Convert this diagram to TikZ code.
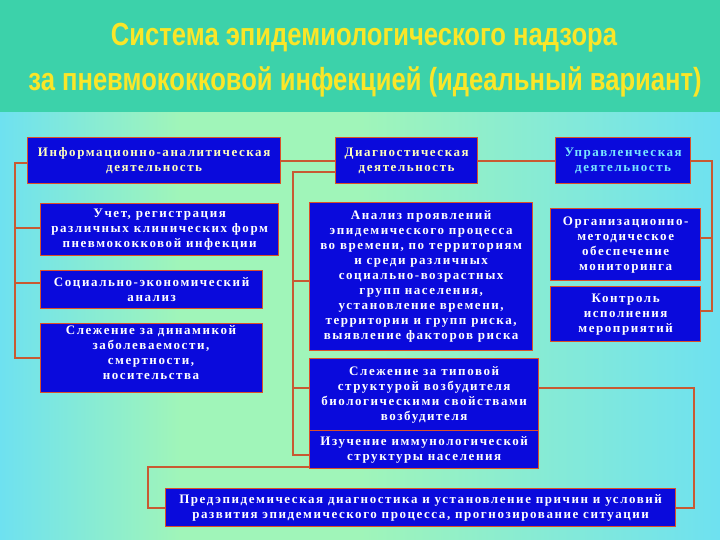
\documentclass[tikz,border=0pt]{standalone}
\usepackage{fontspec}
\setmainfont{Liberation Serif}
\newfontfamily\bxfont[LetterSpace=12]{Liberation Serif}
\newfontfamily\ttlfont{Liberation Sans}
\definecolor{boxblue}{RGB}{10,10,220}
\definecolor{brd}{RGB}{220,80,40}
\definecolor{lnk}{RGB}{200,90,50}
\definecolor{bgc}{RGB}{110,225,240}
\definecolor{bgg}{RGB}{160,245,185}
\definecolor{ttlbg}{RGB}{60,210,170}
\definecolor{ttly}{RGB}{250,230,40}
\definecolor{hdry}{RGB}{255,255,190}
\definecolor{hdrc}{RGB}{120,230,255}
\tikzset{
  bx/.style={draw=brd, line width=1.3pt, fill=boxblue, text=white, font=\bxfont\bfseries\fontsize{13}{15}\selectfont, align=center, inner sep=1pt, anchor=north west},
  ln/.style={draw=lnk, line width=1.3pt},
  ttl/.style={text=ttly, font=\ttlfont\bfseries\fontsize{32}{32}\selectfont, xscale=0.8}
}
\begin{document}
\begin{tikzpicture}[x=1pt,y=-1pt]
\useasboundingbox (0,0) rectangle (720,540);
\shade[left color=bgc, right color=bgg, middle color=bgg] (0,112) rectangle (360,540);
\shade[left color=bgg, right color=bgc] (360,112) rectangle (720,540);
\fill[ttlbg] (0,0) rectangle (720,112);
\node[ttl] (t1) at (364,38) {Система эпидемиологического надзора};
\node[ttl] (t2) at (365,82) {за пневмококковой инфекцией (идеальный вариант)};

\node[bx, minimum width=253pt, minimum height=46pt, text=hdry] (info) at (27,137) {Информационно-аналитическая\\деятельность};
\node[bx, minimum width=142pt, minimum height=46pt, text=hdry] (diag) at (335,137) {Диагностическая\\деятельность};
\node[bx, minimum width=135pt, minimum height=46pt, text=hdrc] (upr) at (555,137) {Управленческая\\деятельность};
\node[bx, minimum width=238pt, minimum height=52pt] (uchet) at (40,203) {Учет, регистрация\\различных клинических форм\\пневмококковой инфекции};
\node[bx, minimum width=222pt, minimum height=38pt] (soc) at (40,270) {Социально-экономический\\анализ};
\node[bx, minimum width=222pt, minimum height=69pt] (sle) at (40,323) {};
\node[anchor=north, text=white, font=\bxfont\bfseries\fontsize{13}{15}\selectfont, align=center, inner sep=0pt] (slet) at (151,325) {Слежение за динамикой\\заболеваемости,\\смертности,\\носительства};
\node[bx, minimum width=223pt, minimum height=148pt] (anal) at (309,202) {Анализ проявлений\\эпидемического процесса\\во времени, по территориям\\и среди различных\\социально-возрастных\\групп населения,\\установление времени,\\территории и групп риска,\\выявление факторов риска};
\node[bx, minimum width=229pt, minimum height=72pt] (tip) at (309,358) {Слежение за типовой\\структурой возбудителя\\биологическими свойствами\\возбудителя};
\node[bx, minimum width=229pt, minimum height=38pt] (izu) at (309,430) {Изучение иммунологической\\структуры населения};
\node[bx, minimum width=150pt, minimum height=72pt] (org) at (550,208) {Организационно-\\методическое\\обеспечение\\мониторинга};
\node[bx, minimum width=150pt, minimum height=55pt] (kon) at (550,286) {Контроль\\исполнения\\мероприятий};
\node[bx, minimum width=510pt, minimum height=38pt] (pre) at (165,488) {Предэпидемическая диагностика и установление причин и условий\\развития эпидемического процесса, прогнозирование ситуации};

\draw[ln] (info.west |- 0,163) -- (15,163) -- (15,358) -- (sle.west |- 0,358);
\draw[ln] (15,228) -- (uchet.west |- 0,228);
\draw[ln] (15,283) -- (soc.west |- 0,283);
\draw[ln] (info.east |- 0,161) -- (diag.west |- 0,161);
\draw[ln] (diag.west |- 0,172) -- (293,172) -- (293,455) -- (izu.west |- 0,455);
\draw[ln] (293,281) -- (anal.west |- 0,281);
\draw[ln] (293,388) -- (tip.west |- 0,388);
\draw[ln] (diag.east |- 0,161) -- (upr.west |- 0,161);
\draw[ln] (upr.east |- 0,161) -- (712,161) -- (712,311) -- (kon.east |- 0,311);
\draw[ln] (712,238) -- (org.east |- 0,238);
\draw[ln] (tip.east |- 0,388) -- (694,388) -- (694,508) -- (pre.east |- 0,508);
\draw[ln] (izu.west |- 0,467) -- (148,467) -- (148,508) -- (pre.west |- 0,508);
\end{tikzpicture}
\end{document}
